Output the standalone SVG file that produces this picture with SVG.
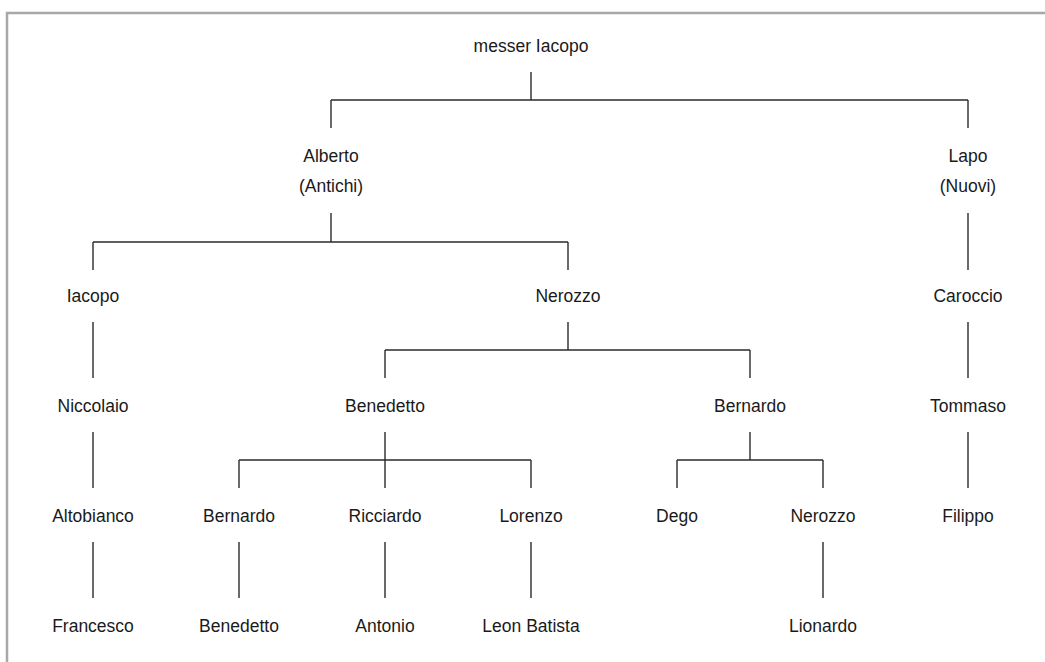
<svg xmlns="http://www.w3.org/2000/svg" width="1045" height="662" viewBox="0 0 1045 662">
<style>
  .t { font-family: "Liberation Sans", Arial, sans-serif; font-size: 17.5px; fill: #1a1a1a; text-anchor: middle; }
  .c line { stroke: #2a2a2a; stroke-width: 1.4; }
  .frame { stroke: #a8a8a8; stroke-width: 2.5; fill: none; }
</style>
<rect x="0" y="0" width="1045" height="662" fill="#ffffff"/>
<path class="frame" d="M7,662 V13 H1045"/>
<g id="connectors" class="c">
  <line x1="531" y1="72" x2="531" y2="100"/>
  <line x1="331" y1="100" x2="968" y2="100"/>
  <line x1="331" y1="100" x2="331" y2="128"/>
  <line x1="968" y1="100" x2="968" y2="128"/>
  <line x1="331" y1="213" x2="331" y2="242"/>
  <line x1="93" y1="242" x2="568" y2="242"/>
  <line x1="93" y1="242" x2="93" y2="270"/>
  <line x1="568" y1="242" x2="568" y2="270"/>
  <line x1="968" y1="213" x2="968" y2="270"/>
  <line x1="93" y1="322" x2="93" y2="378"/>
  <line x1="568" y1="322" x2="568" y2="350"/>
  <line x1="385" y1="350" x2="750" y2="350"/>
  <line x1="385" y1="350" x2="385" y2="378"/>
  <line x1="750" y1="350" x2="750" y2="378"/>
  <line x1="968" y1="322" x2="968" y2="378"/>
  <line x1="93" y1="432" x2="93" y2="488"/>
  <line x1="385" y1="432" x2="385" y2="488"/>
  <line x1="239" y1="460" x2="531" y2="460"/>
  <line x1="239" y1="460" x2="239" y2="488"/>
  <line x1="531" y1="460" x2="531" y2="488"/>
  <line x1="750" y1="432" x2="750" y2="460"/>
  <line x1="677" y1="460" x2="823" y2="460"/>
  <line x1="677" y1="460" x2="677" y2="488"/>
  <line x1="823" y1="460" x2="823" y2="488"/>
  <line x1="968" y1="432" x2="968" y2="488"/>
  <line x1="93" y1="542" x2="93" y2="598"/>
  <line x1="239" y1="542" x2="239" y2="598"/>
  <line x1="385" y1="542" x2="385" y2="598"/>
  <line x1="531" y1="542" x2="531" y2="598"/>
  <line x1="823" y1="542" x2="823" y2="598"/>
</g>
<g id="n-messer-iacopo"><text class="t" x="531" y="52">messer Iacopo</text></g>
<g id="n-alberto"><text class="t" x="331" y="162">Alberto</text><text class="t" x="331" y="192">(Antichi)</text></g>
<g id="n-lapo"><text class="t" x="968" y="162">Lapo</text><text class="t" x="968" y="192">(Nuovi)</text></g>
<g id="n-iacopo"><text class="t" x="93" y="302">Iacopo</text></g>
<g id="n-nerozzo"><text class="t" x="568" y="302">Nerozzo</text></g>
<g id="n-caroccio"><text class="t" x="968" y="302">Caroccio</text></g>
<g id="n-niccolaio"><text class="t" x="93" y="412">Niccolaio</text></g>
<g id="n-benedetto"><text class="t" x="385" y="412">Benedetto</text></g>
<g id="n-bernardo"><text class="t" x="750" y="412">Bernardo</text></g>
<g id="n-tommaso"><text class="t" x="968" y="412">Tommaso</text></g>
<g id="n-altobianco"><text class="t" x="93" y="522">Altobianco</text></g>
<g id="n-bernardo2"><text class="t" x="239" y="522">Bernardo</text></g>
<g id="n-ricciardo"><text class="t" x="385" y="522">Ricciardo</text></g>
<g id="n-lorenzo"><text class="t" x="531" y="522">Lorenzo</text></g>
<g id="n-dego"><text class="t" x="677" y="522">Dego</text></g>
<g id="n-nerozzo2"><text class="t" x="823" y="522">Nerozzo</text></g>
<g id="n-filippo"><text class="t" x="968" y="522">Filippo</text></g>
<g id="n-francesco"><text class="t" x="93" y="632">Francesco</text></g>
<g id="n-benedetto2"><text class="t" x="239" y="632">Benedetto</text></g>
<g id="n-antonio"><text class="t" x="385" y="632">Antonio</text></g>
<g id="n-leon-batista"><text class="t" x="531" y="632">Leon Batista</text></g>
<g id="n-lionardo"><text class="t" x="823" y="632">Lionardo</text></g>
</svg>
